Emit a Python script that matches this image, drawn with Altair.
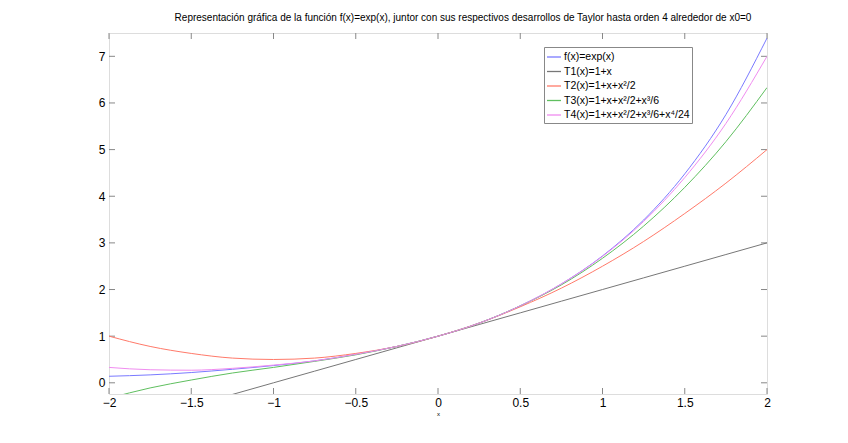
import altair as alt
import pandas as pd

xs = [-2, -1.75, -1.5, -1.25, -1, -0.75, -0.5, -0.25, 0, 0.25, 0.5, 0.75, 1, 1.25, 1.5, 1.75, 2]
f_exp = [0.14, 0.17, 0.22, 0.29, 0.37, 0.47, 0.61, 0.78, 1.00, 1.28, 1.65, 2.12, 2.72, 3.49, 4.48, 5.75, 7.39]
t1 = [-1.0, -0.75, -0.5, -0.25, 0.0, 0.25, 0.5, 0.75, 1.0, 1.25, 1.5, 1.75, 2.0, 2.25, 2.5, 2.75, 3.0]
t2 = [1.0, 0.78, 0.63, 0.53, 0.5, 0.53, 0.63, 0.78, 1.0, 1.28, 1.63, 2.03, 2.5, 3.03, 3.63, 4.28, 5.0]
t3 = [-0.33, -0.11, 0.06, 0.21, 0.33, 0.46, 0.60, 0.78, 1.0, 1.28, 1.65, 2.10, 2.67, 3.36, 4.19, 5.17, 6.33]
t4 = [0.33, 0.28, 0.27, 0.31, 0.38, 0.47, 0.61, 0.78, 1.0, 1.28, 1.65, 2.12, 2.71, 3.46, 4.40, 5.56, 7.0]

names = ["f(x)=exp(x)", "T1(x)=1+x", "T2(x)=1+x+x²/2",
         "T3(x)=1+x+x²/2+x³/6", "T4(x)=1+x+x²/2+x³/6+x⁴/24"]
colors = ["#7a7aff", "#777777", "#ff7a6a", "#5fbf5f", "#f08cf0"]
series = [f_exp, t1, t2, t3, t4]

x_ticks = [-2, -1.5, -1, -0.5, 0, 0.5, 1, 1.5, 2]
y_ticks = [0, 1, 2, 3, 4, 5, 6, 7]
x_domain = [-2, 2]
y_domain = [-0.24, 7.5]

rows = []
for name, ys in zip(names, series):
    for x, y in zip(xs, ys):
        rows.append({"x": x, "y": y, "serie": name})
df = pd.DataFrame(rows)

W, H = 658, 361
font = "Liberation Sans"

xscale = alt.Scale(domain=x_domain, nice=False, zero=False)
yscale = alt.Scale(domain=y_domain, nice=False, zero=False)

tick_len = 6
xt = pd.DataFrame({"t": x_ticks})
yt = pd.DataFrame({"t": y_ticks})
tick_color = "#888888"

xb = alt.Chart(xt).mark_rule(stroke=tick_color, strokeWidth=1).encode(
    x=alt.X("t:Q", scale=xscale,
            axis=alt.Axis(values=x_ticks, title="x", titleFontSize=6, titleFontWeight="normal",
                          titlePadding=2, ticks=False, grid=False, domain=False,
                          labelFontSize=12, labelPadding=3, labelColor="#000",
                          labelFont=font, titleFont=font, labelFlush=False,
                          format="~g")),
    y=alt.value(H), y2=alt.value(H - tick_len))
xtp = alt.Chart(xt).mark_rule(stroke=tick_color, strokeWidth=1).encode(
    x=alt.X("t:Q", scale=xscale), y=alt.value(0), y2=alt.value(tick_len))
yl = alt.Chart(yt).mark_rule(stroke=tick_color, strokeWidth=1).encode(
    y=alt.Y("t:Q", scale=yscale,
            axis=alt.Axis(values=y_ticks, title=None, ticks=False, grid=False, domain=False,
                          labelFontSize=12, labelPadding=4, labelColor="#000",
                          labelFont=font, labelFlush=False)),
    x=alt.value(0), x2=alt.value(tick_len))
yr = alt.Chart(yt).mark_rule(stroke=tick_color, strokeWidth=1).encode(
    y=alt.Y("t:Q", scale=yscale), x=alt.value(W), x2=alt.value(W - tick_len))

lines = alt.Chart(df).mark_line(strokeWidth=1, clip=True, interpolate="monotone").encode(
    x=alt.X("x:Q", scale=xscale),
    y=alt.Y("y:Q", scale=yscale),
    color=alt.Color("serie:N",
                    scale=alt.Scale(domain=names, range=colors),
                    sort=names,
                    legend=alt.Legend(title=None, orient="none", legendX=435, legendY=14,
                                      symbolType="stroke", symbolSize=196, symbolStrokeWidth=1.3,
                                      labelFont=font, labelFontSize=10.5, labelColor="#000",
                                      rowPadding=0.5, labelOffset=2,
                                      strokeColor="#888", fillColor="white",
                                      padding=2, labelLimit=300)),
)

chart = alt.layer(xb, xtp, yl, yr, lines).resolve_scale(x="shared", y="shared").properties(
    width=W, height=H,
    padding={"left": 101, "top": 25, "right": 20, "bottom": 40},
    autosize=alt.AutoSizeParams(type="none"),
    title=alt.TitleParams(
        "Representación gráfica de la función f(x)=exp(x), juntor con sus respectivos desarrollos de Taylor hasta orden 4 alrededor de x0=0",
        font=font, fontSize=10, fontWeight="normal", color="#000",
        anchor="middle", dx=25, offset=10),
).configure_view(stroke="#888888", strokeWidth=1.5).configure(background="white")

chart.save("out.html", embed_options={"renderer": "svg", "actions": False})
